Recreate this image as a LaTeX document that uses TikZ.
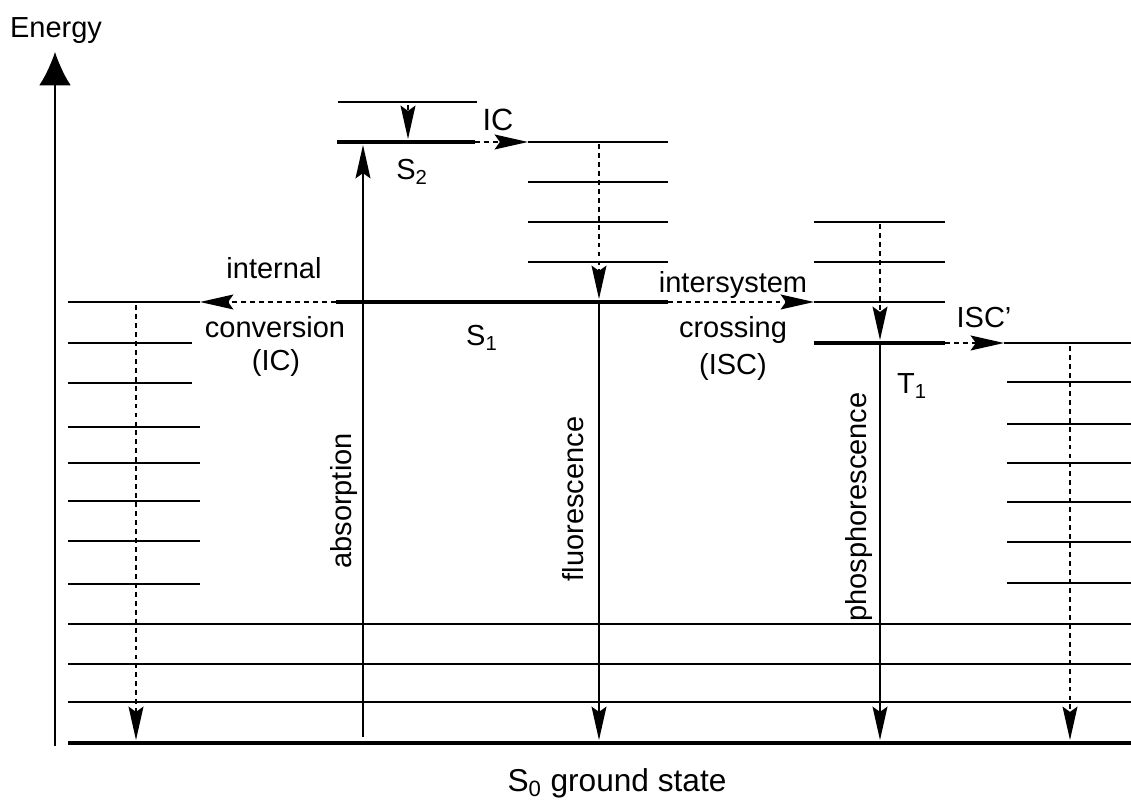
\documentclass[tikz,border=0pt]{standalone}
\usepackage{fontspec}
\setmainfont{Liberation Sans}
\usetikzlibrary{arrows.meta}

\begin{document}
\begin{tikzpicture}[
  level/.style={line width=0.85pt},
  state/.style={line width=2pt},
  rad/.style={line width=0.85pt, -{Stealth[length=19pt, width=8.5pt, inset=3pt]}},
  nonrad/.style={rad, dash pattern=on 2.8pt off 2.3pt},
  lbl/.style={font=\fontsize{16.5}{19}\selectfont, inner sep=0pt},
]
  \useasboundingbox (0,0) rectangle (22.62,16.02);

  \node[lbl] at (1.12,15.40) (energy) {Energy};
  \coordinate (axisbot) at (1.10,1.10);
  \coordinate (axistop) at (1.10,14.98);
  \draw[line width=0.85pt, -{Latex[length=19pt, width=18pt]}] (axisbot) -- (axistop);

  \coordinate (S0l) at (1.36,1.16);
  \coordinate (S0r) at (22.62,1.16);
  \draw[line width=2.3pt] (S0l) -- (S0r);
  \draw[level] (1.36,1.98) -- (22.62,1.98) (1.36,2.74) -- (22.62,2.74) (1.36,3.54) -- (22.62,3.54);
  \node[lbl, font=\fontsize{18}{21}\selectfont] at (12.34,0.36) (S0) {S\textsubscript{0} ground state};

  \coordinate (ICl) at (1.36,9.98);
  \coordinate (ICr) at (4.00,9.98);
  \draw[level] (ICl) -- (ICr);
  \draw[level] (1.36,9.16) -- (3.84,9.16) (1.36,8.36) -- (3.84,8.36)
    (1.36,7.48) -- (4.00,7.48) (1.36,6.76) -- (4.00,6.76) (1.36,6.00) -- (4.00,6.00)
    (1.36,5.20) -- (4.00,5.20) (1.36,4.34) -- (4.00,4.34);

  \coordinate (S2vl) at (6.76,13.98);
  \coordinate (S2vr) at (9.54,13.98);
  \coordinate (S2l) at (6.74,13.18);
  \coordinate (S2r) at (9.50,13.18);
  \draw[level] (S2vl) -- (S2vr);
  \draw[state] (S2l) -- (S2r);
  \node[lbl] at (8.24,12.58) (S2) {S\textsubscript{2}};

  \coordinate (S1vl) at (10.56,13.18);
  \coordinate (S1vr) at (13.36,13.18);
  \draw[level] (S1vl) -- (S1vr);
  \draw[level] (10.56,12.38) -- (13.36,12.38) (10.56,11.58) -- (13.36,11.58) (10.56,10.78) -- (13.36,10.78);
  \coordinate (S1l) at (6.72,9.98);
  \coordinate (S1r) at (13.36,9.98);
  \draw[state] (S1l) -- (S1r);
  \node[lbl] at (9.64,9.26) (S1) {S\textsubscript{1}};

  \coordinate (T1vl) at (16.28,9.98);
  \coordinate (T1vr) at (18.90,9.98);
  \draw[level] (16.28,11.58) -- (18.90,11.58) (16.28,10.78) -- (18.90,10.78);
  \draw[level] (T1vl) -- (T1vr);
  \coordinate (T1l) at (16.28,9.16);
  \coordinate (T1r) at (18.90,9.16);
  \draw[state] (T1l) -- (T1r);
  \node[lbl] at (18.24,8.30) (T1) {T\textsubscript{1}};

  \coordinate (ISCl) at (20.08,9.16);
  \coordinate (ISCr) at (22.62,9.16);
  \draw[level] (ISCl) -- (ISCr);
  \draw[level] (20.14,8.38) -- (22.62,8.38) (20.14,7.54) -- (22.62,7.54) (20.14,6.76) -- (22.62,6.76)
    (20.14,5.98) -- (22.62,5.98) (20.14,5.18) -- (22.62,5.18) (20.14,4.36) -- (22.62,4.36);

  \coordinate (absbot) at (7.26,1.28);
  \coordinate (abstop) at (7.26,13.12);
  \draw[rad] (absbot) -- (abstop);
  \node[lbl, rotate=90] at (6.88,6.00) (absorption) {absorption};

  \coordinate (flutop) at (11.98,9.98);
  \coordinate (flubot) at (11.98,1.22);
  \draw[rad] (flutop) -- (flubot);
  \node[lbl, rotate=90] at (11.46,6.04) (fluorescence) {fluorescence};

  \coordinate (phostop) at (17.60,9.16);
  \coordinate (phosbot) at (17.60,1.22);
  \draw[rad] (phostop) -- (phosbot);
  \node[lbl, rotate=90] at (17.18,5.88) (phosphorescence) {phosphorescence};

  \coordinate (vr2top) at (8.16,13.92);
  \coordinate (vr2bot) at (8.16,13.24);
  \draw[nonrad] (vr2top) -- (vr2bot);
  \coordinate (vr1top) at (11.98,13.14);
  \coordinate (vr1bot) at (11.98,10.04);
  \draw[nonrad] (vr1top) -- (vr1bot);
  \coordinate (vrTtop) at (17.60,11.54);
  \coordinate (vrTbot) at (17.60,9.22);
  \draw[nonrad] (vrTtop) -- (vrTbot);
  \coordinate (vrLtop) at (2.72,9.92);
  \coordinate (vrLbot) at (2.72,1.22);
  \draw[nonrad] (vrLtop) -- (vrLbot);
  \coordinate (vrRtop) at (21.40,9.10);
  \coordinate (vrRbot) at (21.40,1.22);
  \draw[nonrad] (vrRtop) -- (vrRbot);

  \draw[nonrad] (S2r) -- (S1vl);
  \node[lbl, font=\fontsize{17.5}{20}\selectfont] at (9.96,13.62) (IC) {IC};
  \draw[nonrad] (S1l) -- (ICr);
  \node[lbl] at (5.48,10.66) (internal) {internal};
  \node[lbl] at (5.50,9.48) (conversion) {conversion};
  \node[lbl] at (5.52,8.76) (ICpar) {(IC)};
  \draw[nonrad] (S1r) -- (T1vl);
  \node[lbl] at (14.66,10.32) (intersystem) {intersystem};
  \node[lbl] at (14.66,9.42) (crossing) {crossing};
  \node[lbl] at (14.66,8.68) (ISCpar) {(ISC)};
  \draw[nonrad] (T1r) -- (ISCl);
  \node[lbl] at (19.68,9.66) (ISCp) {ISC'};
\end{tikzpicture}
\end{document}
